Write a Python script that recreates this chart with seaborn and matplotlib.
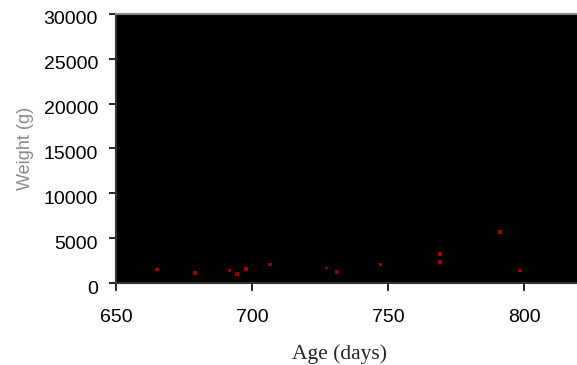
import matplotlib
matplotlib.use("Agg")
import matplotlib.pyplot as plt
import matplotlib.transforms as mtransforms
import seaborn as sns
import pandas as pd

# Age (days) and body weight (g) of each animal
age_days = [665.1, 679.0, 691.7, 694.6, 697.7, 706.5, 727.4, 731.2, 747.3, 769.2, 769.2, 791.3, 798.6]
weight_g = [1490, 1150, 1380, 970, 1530, 2080, 1750, 1190, 2080, 3250, 2350, 5670, 1380]
marker_kind = ["s", "s", "s", "s", "s", "s", "^", "s", "s", "s", "s", "s", "s"]

x_ticks = [650, 700, 750, 800]
y_ticks = [0, 5000, 10000, 15000, 20000, 25000, 30000]

df = pd.DataFrame({"age": age_days, "weight": weight_g, "kind": marker_kind})

sns.set_style("ticks")
plt.rcParams["font.family"] = ["Liberation Sans", "DejaVu Sans"]

fig = plt.figure(figsize=(5.77, 3.65), dpi=100)
ax = fig.add_axes([116 / 577, (365 - 283) / 365, 1 - 116 / 577, (283 - 14) / 365])
ax.set_facecolor("black")

sns.scatterplot(data=df, x="age", y="weight", style="kind",
                markers={"s": "s", "^": "^"}, s=7,
                color="#9a0000", edgecolor="none", linewidth=0,
                legend=False, ax=ax)

ax.set_xlim(650, 819.5)
ax.set_ylim(0, 30000)
ax.set_xticks(x_ticks)
ax.set_yticks(y_ticks)
ax.tick_params(axis="both", labelsize=14, length=5.4, width=1.2, color="black",
               labelcolor="black", direction="out")
ax.tick_params(axis="x", pad=13.5)
ax.tick_params(axis="y", pad=7.5)

# value labels on the y axis sit a little below their ticks
shift = mtransforms.ScaledTranslation(0, -4 / 100, fig.dpi_scale_trans)
for lbl in ax.get_yticklabels():
    lbl.set_transform(lbl.get_transform() + shift)

for side in ["left", "bottom"]:
    ax.spines[side].set_color("#333333")
    ax.spines[side].set_linewidth(1.5)
ax.spines["top"].set_visible(True)
ax.spines["top"].set_color("#888888")
ax.spines["top"].set_linewidth(1.5)
ax.spines["right"].set_visible(False)

ax.set_xlabel("Age (days)", fontsize=15.5, family=["Liberation Serif", "DejaVu Serif"])
ax.xaxis.set_label_coords((339 - 116) / 461, -(354 - 283) / 269)
ax.xaxis.label.set_va("center")

ax.set_ylabel("Weight (g)", fontsize=13, color="#8a8a8a",
              family=["Liberation Sans", "DejaVu Sans"])
ax.yaxis.set_label_coords((25 - 116) / 461, (283 - 148) / 269)
ax.yaxis.label.set_va("center")

fig.savefig("out.png", dpi=100, facecolor="white")
